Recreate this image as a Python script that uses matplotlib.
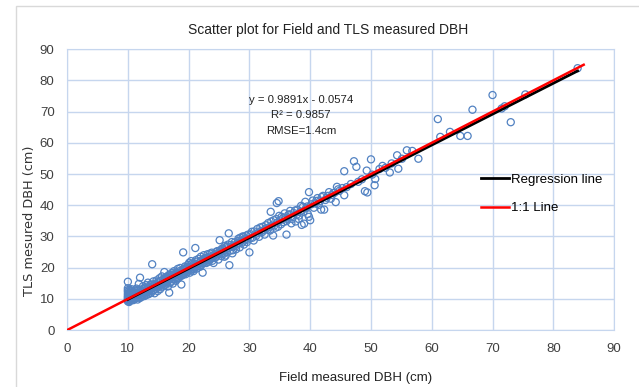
import numpy as np
import matplotlib
matplotlib.use("Agg")
import matplotlib.pyplot as plt
from matplotlib.patches import Rectangle

plt.rcParams['font.family'] = ['Liberation Sans Narrow', 'Liberation Sans', 'DejaVu Sans']

# field DBH vs TLS DBH (cm)
pts = [
    (10.0,9.2),(10.0,10.1),(10.0,11.0),(10.0,12.3),(10.0,13.4),(10.0,15.5),(10.1,9.8),(10.1,10.6),
    (10.2,11.8),(10.2,9.0),(10.3,10.3),(10.3,12.9),(10.4,9.5),(10.5,11.2),(10.5,10.0),(10.6,13.1),
    (10.7,9.7),(10.7,11.6),(10.8,10.4),(10.9,12.2),(11.0,9.9),(11.0,10.9),(11.1,12.7),(11.2,11.4),
    (11.3,10.2),(11.4,13.3),(11.5,11.0),(11.6,9.8),(11.7,12.1),(11.8,14.8),(11.9,10.7),(12.0,16.8),
    (12.0,11.9),(12.1,13.0),(12.2,10.6),(12.3,12.4),(12.4,11.3),(12.5,14.1),(12.6,12.0),(12.7,10.9),
    (12.8,13.6),(12.9,12.5),(13.0,11.2),(13.0,14.4),(13.1,13.0),(13.2,12.1),(13.3,15.2),(13.4,11.5),
    (13.5,13.8),(13.6,12.9),(13.7,14.6),(13.8,11.9),(13.9,13.4),(14.0,21.1),(14.0,14.0),(14.1,12.6),
    (14.2,15.6),(14.3,13.7),(14.4,11.8),(14.5,14.9),(14.6,13.2),(14.7,15.9),(14.8,14.3),(14.9,12.5),
    (15.0,15.4),(15.1,14.0),(15.2,16.6),(15.3,13.1),(15.4,15.8),(15.5,14.6),(15.6,17.2),(15.7,13.9),
    (15.8,16.1),(15.9,15.0),(16.0,18.6),(16.1,16.4),(16.2,14.5),(16.3,17.0),(16.4,15.7),(16.5,16.9),
    (16.6,14.0),(16.7,17.6),(16.8,12.0),(16.9,16.3),(17.0,17.8),(17.1,15.5),(17.2,18.3),(17.3,16.8),
    (17.4,14.9),(17.5,17.4),(17.6,18.9),(17.7,16.2),(17.8,17.9),(17.9,15.8),(18.0,18.5),(18.1,17.1),
    (18.2,19.6),(18.3,16.6),(18.4,18.2),(18.5,17.5),(18.6,19.9),(18.8,14.6),(18.9,18.7),(19.0,17.6),
    (19.1,24.9),(19.2,19.3),(19.3,18.1),(19.4,20.4),(19.5,17.9),(19.6,19.8),(19.8,18.6),(19.9,20.9),
    (20.0,19.5),(20.1,21.6),(20.2,18.4),(20.3,20.2),(20.4,22.1),(20.5,19.1),(20.6,20.7),(20.8,18.9),
    (20.9,21.3),(21.0,20.1),(21.1,26.3),(21.2,22.4),(21.3,19.7),(21.4,21.0),(21.6,22.8),(21.7,20.5),
    (21.9,21.8),(22.0,23.5),(22.1,20.9),(22.3,18.4),(22.4,22.2),(22.5,24.0),(22.7,21.6),(22.8,23.2),
    (23.0,22.4),(23.1,24.3),(23.3,21.9),(23.5,23.6),(23.6,22.7),(23.8,24.8),(24.0,23.1),(24.1,21.5),
    (24.3,24.2),(24.5,23.4),(24.7,25.3),(24.9,22.6),(25.1,28.8),(25.2,24.9),(25.4,23.7),(25.6,25.8),
    (25.8,24.5),(26.0,27.0),(26.1,23.9),(26.3,26.2),(26.6,31.0),(26.7,20.8),(26.8,25.4),(27.0,27.3),
    (27.2,24.6),(27.4,26.8),(27.6,28.1),(27.8,25.9),(28.0,27.7),(28.2,29.3),(28.4,26.5),(28.6,28.6),
    (28.9,30.0),(29.1,27.4),(29.3,29.1),(29.6,28.2),(29.8,30.6),(30.0,24.9),(30.1,29.4),(30.4,31.5),
    (30.7,28.7),(31.0,30.8),(31.3,32.4),(31.6,29.9),(31.9,31.7),(32.2,33.1),(32.5,30.6),(32.8,32.6),
    (33.1,34.3),(33.4,31.9),(33.5,37.9),(33.7,33.5),(33.9,30.3),(34.0,35.2),(34.3,32.8),(34.5,40.7),
    (34.8,41.3),(34.6,34.4),(34.9,36.6),(35.2,33.9),(35.5,35.8),(35.8,37.4),(36.1,30.6),(36.1,34.9),
    (36.4,36.9),(36.7,38.2),(37.0,35.6),(37.3,37.5),(37.6,34.8),(37.9,38.6),(38.2,36.7),(38.6,33.7),
    (38.5,39.8),(38.9,37.9),(39.2,41.1),(39.3,39.0),(39.6,37.2),(39.8,44.2),(39.8,36.3),(40.0,35.2),
    (40.2,40.3),(40.6,39.2),(41.0,41.4),(41.4,40.1),(41.8,38.6),(41.9,42.6),(42.3,38.6),(42.5,41.7),
    (42.9,43.0),(43.4,42.1),(43.8,43.9),(44.2,41.0),(44.4,45.9),(44.8,44.6),(45.3,45.5),(45.6,50.9),
    (45.6,43.2),(46.0,45.8),(46.7,46.8),(47.2,54.1),(47.6,52.3),(47.9,47.5),(48.5,48.3),(49.0,44.5),
    (49.3,51.1),(49.4,44.1),(50.0,54.7),(50.2,49.8),(50.6,46.4),(50.7,48.4),(51.4,51.6),(51.9,52.6),
    (52.4,52.0),(53.1,50.5),(53.4,53.4),(54.3,56.0),(54.5,51.7),(55.1,54.9),(55.9,57.6),(56.8,57.4),
    (57.8,54.9),(61.0,67.6),(61.4,61.9),(63.0,63.5),(64.7,62.2),(65.9,62.2),(66.7,70.6),(70.0,75.3),
    (71.5,71.0),(72.0,71.7),(73.0,66.6),(75.4,75.5),(84.0,83.9),
    # denser part of the band
    (10.0,9.6),(10.0,10.5),(10.0,11.6),(10.0,12.8),(10.1,11.3),(10.2,10.0),(10.3,9.3),(10.4,11.9),
    (10.5,12.6),(10.6,10.2),(10.8,11.5),(10.9,9.6),(11.0,11.8),(11.1,10.5),(11.3,12.0),(11.5,10.4),
    (11.6,12.9),(11.8,11.2),(12.0,10.3),(12.1,12.7),(12.3,11.0),(12.5,12.2),(12.7,13.2),(12.9,11.7),
    (13.1,12.4),(13.3,13.6),(13.5,12.3),(13.7,13.1),(13.9,14.5),(14.1,13.5),(14.3,12.9),(14.5,13.8),
    (14.7,14.7),(14.9,13.6),(15.1,15.3),(15.3,14.4),(15.5,15.9),(15.7,15.1),(15.9,14.2),(16.1,15.6),
    (16.3,16.2),(16.5,15.3),(16.7,16.5),(16.9,15.0),(17.1,17.0),(17.3,17.7),(17.5,16.3),(17.7,17.4),
    (17.9,18.3),(18.1,16.5),(18.3,18.0),(18.5,18.9),(18.7,17.3),(18.9,19.0),(19.1,18.4),(19.3,19.7),
    (19.5,18.8),(19.7,20.2),(19.9,19.2),(20.1,20.0),(20.3,19.4),(20.5,21.2),(20.7,20.3),(20.9,19.6),
    (21.1,21.0),(21.3,21.9),(21.5,20.6),(21.7,21.5),(21.9,20.3),(22.1,22.3),(22.3,21.4),(22.5,22.9),
    (22.7,22.5),(22.9,21.5),(23.1,23.2),(23.3,22.8),(23.5,24.5),(23.7,23.4),(23.9,22.2),(24.1,24.0),
    (24.3,23.2),(24.5,25.0),(24.7,24.2),(24.9,24.6),(25.1,25.5),(25.3,24.3),(25.5,26.1),(25.7,25.2),
    (25.9,23.5),(26.1,26.6),(26.3,25.0),(26.5,27.4),(26.9,26.6),(27.1,28.2),(27.3,25.6),(27.5,27.0),
    (27.9,27.0),(28.1,28.5),(28.3,27.9),(28.5,29.6),(28.8,28.0),(29.0,29.9),(29.2,28.7),(29.5,30.3),
    (29.7,29.0),(30.2,30.7),(30.5,29.6),(30.8,31.6),(31.1,30.2),(31.5,31.2),(31.8,32.9),(32.1,31.4),
    (32.4,32.0),(32.7,33.6),(33.0,32.2),(33.3,33.0),(33.6,34.8),(34.1,33.5),(34.4,35.6),(34.7,33.1),
    (35.0,35.1),(35.3,36.3),(35.6,34.6),(35.9,36.0),(36.3,35.5),(36.6,37.1),(36.9,34.2),(37.2,36.3),
    (37.5,38.3),(37.8,37.0),(38.1,35.6),(38.4,38.0),(38.8,39.5),(39.0,34.1),(39.5,39.6),(40.4,41.5),
    (40.8,40.6),(41.2,42.3),(41.6,41.3),(42.1,43.0),(42.7,42.4),(43.1,44.2),(43.6,43.3),(44.0,44.0),
    (44.6,45.1),
]
field_dbh = np.array([p[0] for p in pts])
tls_dbh = np.array([p[1] for p in pts])

# fit shown on the chart
slope, intercept = 0.9891, -0.0574
reg_x = [10, 84]
one_x = [0, 85]

fig = plt.figure(figsize=(6.39, 3.87), dpi=100)
ax = fig.add_axes([0.105, 0.147, 0.856, 0.726])

gridc = '#c6d6ee'
ax.scatter(field_dbh, tls_dbh, s=26, facecolors='none', edgecolors='#5282c2',
           linewidths=0.9, zorder=3)
ax.plot(reg_x, [slope * v + intercept for v in reg_x], color='black', lw=2,
        label='Regression line', zorder=4)
ax.plot(one_x, one_x, color='#ff0000', lw=1.8, label='1:1 Line', zorder=5)

ax.set_xlim(0, 90)
ax.set_ylim(0, 90)
ax.set_xticks(range(0, 91, 10))
ax.set_yticks(range(0, 91, 10))
ax.grid(True, color=gridc, lw=1)
ax.set_axisbelow(True)
for s in ax.spines.values():
    s.set_color(gridc)
ax.tick_params(length=0, labelsize=9.5, colors='#404040', pad=9)

ax.set_title('Scatter plot for Field and TLS measured DBH', fontsize=10, pad=11,
             color='#222222', x=0.477)
ax.set_xlabel('Field measured DBH (cm)', fontsize=9.5, color='#222222')
ax.xaxis.set_label_coords(0.528, -0.148)
ax.set_ylabel('TLS mesured DBH (cm)', fontsize=9.3, color='#333333',
              family=['DejaVu Sans'])
ax.yaxis.set_label_coords(-0.057, 0.39)

ax.text(38.5, 68.8, 'y = 0.9891x - 0.0574\nR² = 0.9857\nRMSE=1.4cm', ha='center',
        va='center', fontsize=8.2, linespacing=1.65, color='#222222')

leg = ax.legend(loc='upper left', bbox_to_anchor=(0.735, 0.6), frameon=False,
                fontsize=9.5, handlelength=2.1, handletextpad=0.2, labelspacing=1.25)

# chart area border
fig.patches.append(Rectangle((16 / 639, -0.1), 1.0, 1 - 6 / 387 + 0.1,
                             transform=fig.transFigure, fill=False,
                             edgecolor='#d9d9d9', lw=1))

fig.savefig('out.png', dpi=100)
